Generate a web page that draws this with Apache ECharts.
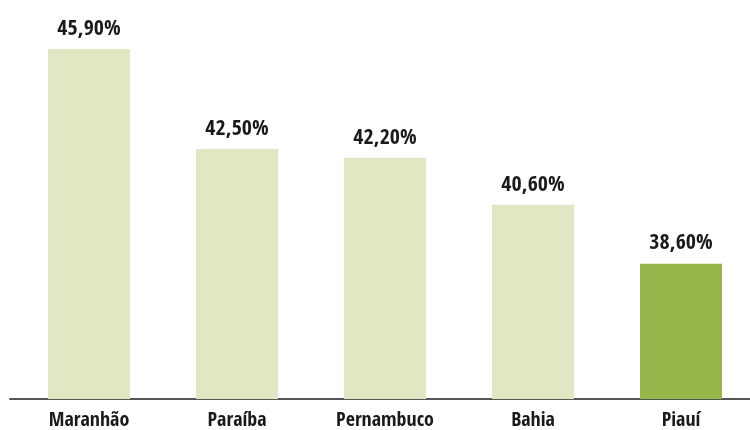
<!DOCTYPE html>
<html>
<head>
<meta charset="utf-8">
<script src="https://cdn.jsdelivr.net/npm/echarts@6/dist/echarts.min.js"></script>
<style>
  html, body { margin: 0; padding: 0; background: #fff; }
  #chart { width: 750px; height: 430px; }
</style>
</head>
<body>
<div id="chart"></div>
<script>
var states = ['Maranhão', 'Paraíba', 'Pernambuco', 'Bahia', 'Piauí'];
var rates = [45.9, 42.5, 42.2, 40.6, 38.6];
var highlight = 'Piauí';

var lightGreen = '#dfe8c2';
var darkGreen = '#97b64a';
var fontName = '"Open Sans Condensed", "Roboto Condensed", sans-serif';

// bars sit on a value x axis (index of the state) so the axis line can run the full width
var barData = [];
var positions = [];
for (var i = 0; i < states.length; i++) {
	positions.push(i);
	barData.push({
		value: [i, rates[i]],
		itemStyle: { color: states[i] == highlight ? darkGreen : lightGreen }
	});
}

var myChart = echarts.init(document.getElementById('chart'));

var option = {
	animation: false,
	grid: { left: 10, right: 0, top: 46, bottom: 31, outerBoundsMode: 'none' },
	xAxis: {
		type: 'value',
		min: -0.534,
		max: 4.466,
		splitLine: { show: false },
		axisLine: { show: true, onZero: false, lineStyle: { color: '#555', width: 2 } },
		axisTick: { show: false },
		axisLabel: {
			customValues: positions,
			color: '#1a1a1a',
			fontFamily: fontName,
			fontWeight: 'bold',
			fontSize: 20,
			margin: 12,
			formatter: function(v) {
				return states[Math.round(v)];
			}
		}
	},
	yAxis: {
		type: 'value',
		min: 34,
		max: 46,
		show: false
	},
	series: [{
		type: 'bar',
		data: barData,
		barWidth: 82,
		label: {
			show: true,
			position: 'top',
			distance: 9,
			color: '#1a1a1a',
			fontFamily: fontName,
			fontWeight: 'bold',
			fontSize: 22,
			formatter: function(p) {
				return p.value[1].toFixed(2).replace('.', ',') + '%';
			}
		}
	}]
};

myChart.setOption(option);
</script>
</body>
</html>
